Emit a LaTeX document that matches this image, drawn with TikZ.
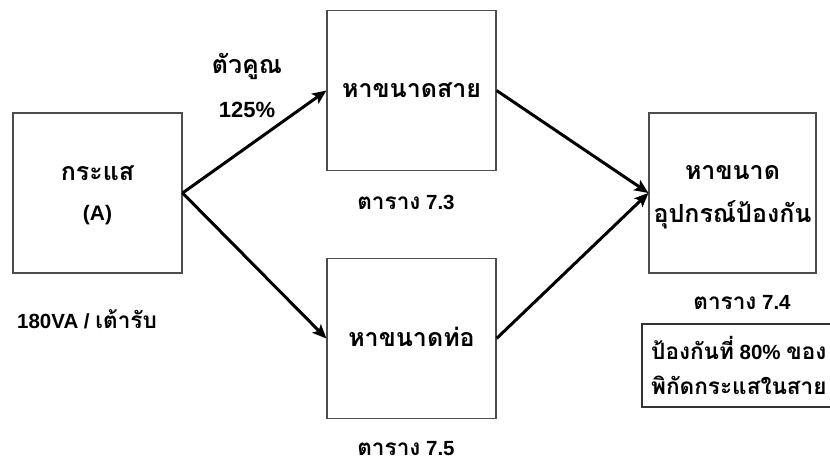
\documentclass[tikz,border=0pt]{standalone}
\usepackage{fontspec}
\setmainfont{Liberation Sans}
\newfontfamily\thaifont[Script=Thai,Scale=1.25]{Loma}
\newfontfamily\thaism[Script=Thai,Scale=1.1]{Loma}
\usetikzlibrary{arrows.meta}
\newcommand{\tf}[1]{{\thaifont #1}}
\newcommand{\ts}[1]{{\thaism #1}}
\tikzset{
  x=1pt, y=-1pt,
  box/.style={draw=black!70, line width=1.1pt, minimum width=169pt, minimum height=160pt, inner sep=0pt},
  lbl/.style={font=\bfseries\fontsize{20}{24}\selectfont, inner sep=0pt},
  note/.style={font=\bfseries\fontsize{20.5}{24}\selectfont, inner sep=0pt},
  arr/.style={line width=3pt, -{Stealth[length=14pt,width=12pt,inset=3pt]}}
}
\begin{document}
\begin{tikzpicture}
\useasboundingbox (0,0) rectangle (830,466);
% boxes
\node[box] (cur) at (97.5,193) {};
\node[box] (wire) at (411.5,90.5) {};
\node[box] (pipe) at (411.5,338.5) {};
\node[box, minimum width=167pt] (prot) at (732.5,193) {};
% box texts
\node[lbl] (t1) at (97.5,173) {\tf{กระแส}};
\node[lbl] (t2) at (97.5,215) {\fontsize{21}{24}\selectfont (A)};
\node[lbl] (t3) at (411.5,90) {\tf{หาขนาดสาย}};
\node[lbl] (t4) at (411.5,337) {\tf{หาขนาดท่อ}};
\node[lbl] (t5) at (732.5,173) {\tf{หาขนาด}};
\node[lbl] (t6) at (732.5,215) {\tf{อุปกรณ์ป้องกัน}};
% labels
\node[lbl] (k1) at (247,66) {\tf{ตัวคูณ}};
\node[lbl] (k2) at (247,110) {\fontsize{22}{24}\selectfont 125\%};
\node[note] (va) at (87,319) {180VA / \ts{เต้ารับ}};
\node[note] (r3) at (406,202) {\ts{ตาราง} 7.3};
\node[note] (r5) at (406,449) {\ts{ตาราง} 7.5};
\node[note] (r4) at (742,302) {\ts{ตาราง} 7.4};
% note box
\draw[draw=black!80, line width=1.1pt] (642,324) rectangle (834,407);
\node[note, anchor=west] (n1) at (651,348) {\ts{ป้องกันที่} 80\% \ts{ของ}};
\node[note, anchor=west] (n2) at (651,385) {\ts{พิกัดกระแสในสาย}};
% arrows
\draw[arr] (cur.east) -- (wire.west);
\draw[arr] (cur.east) -- (pipe.west);
\draw[arr] (wire.east) -- (prot.west);
\draw[arr] (pipe.east) -- (prot.west);
\end{tikzpicture}
\end{document}
